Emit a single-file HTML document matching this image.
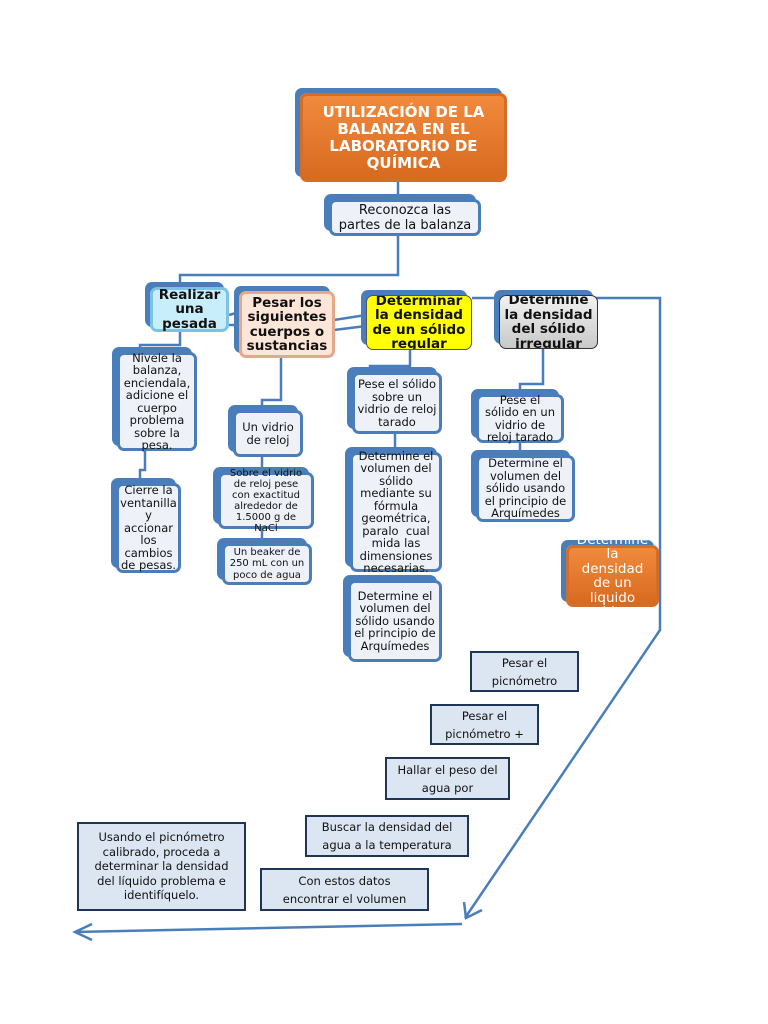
<!DOCTYPE html>
<html><head><meta charset="utf-8">
<style>
body{margin:0;background:#fff;}
#c{position:relative;width:768px;height:1024px;overflow:hidden;font-family:"DejaVu Sans","Liberation Sans",sans-serif;color:#111;}
.n{position:absolute;box-sizing:border-box;border:3px solid #4a7ebb;border-radius:7px;background:#eef2f8;box-shadow:-5px -5px 0 #4a7ebb;display:flex;align-items:center;justify-content:center;text-align:center;font-size:11.5px;line-height:12.5px;}
.r{position:absolute;box-sizing:border-box;border:2.5px solid #1f3555;background:#dce6f2;display:flex;align-items:center;justify-content:center;text-align:center;font-size:11.5px;line-height:18px;}
svg{position:absolute;left:0;top:0;}
</style></head><body><div id="c">
<svg width="768" height="1024">
<g stroke="#4a7ebb" stroke-width="2.5" fill="none">
<path d="M398 182V199M398 235V275H180V287"/>
<path d="M180 331V345H140V354"/>
<path d="M145 450V470H140V483"/>
<path d="M281 357V400H262V410"/>
<path d="M262 456V472"/><path d="M262 528V543"/>
<path d="M410 349V366H370V372"/>
<path d="M395 433V452"/>
<path d="M543 348V384H520V394"/>
<path d="M520 442V455"/>
<path d="M334 320L366 315M334 330L366 326"/>
<path d="M229 315L236 313M229 325L236 325"/>
<path d="M472 298H660V630L465 918"/>
<path d="M462 924L75 932"/>
<path d="M464 902L466 918L482 910"/>
<path d="M92 924L75 932L92 940"/>
</g></svg>
<div class="n" style="left:300px;top:93px;width:207px;height:89px;background:linear-gradient(#f18a3c,#d86a20);border-color:#d26d2a;color:#fff;font-weight:bold;font-size:15px;line-height:17px;">UTILIZACIÓN DE LA<br>BALANZA EN EL<br>LABORATORIO DE<br>QUÍMICA</div>
<div class="n" style="left:329px;top:199px;width:152px;height:37px;font-size:13px;line-height:15px;">Reconozca las<br>partes de la balanza</div>
<div class="n" style="left:150px;top:287px;width:79px;height:45px;background:#c9eefb;border-color:#7cc2e4;font-weight:bold;font-size:13.5px;line-height:14.5px;">Realizar<br>una<br>pesada</div>
<div class="n" style="left:239px;top:291px;width:96px;height:67px;background:#fde6d8;border-color:#e4a88a;font-weight:bold;font-size:13.5px;line-height:14.5px;">Pesar los<br>siguientes<br>cuerpos o<br>sustancias</div>
<div class="n" style="left:366px;top:295px;width:106px;height:55px;background:#ffff00;border-color:#555;border-width:1.5px;font-weight:bold;font-size:13.5px;line-height:14.5px;overflow:hidden;">Determinar<br>la densidad<br>de un sólido<br>regular</div>
<div class="n" style="left:499px;top:295px;width:99px;height:54px;background:linear-gradient(#f2f2f2,#c8c8c8);border-color:#333;border-width:1.5px;font-weight:bold;font-size:13.5px;line-height:14.5px;overflow:hidden;">Determine<br>la densidad<br>del sólido<br>irregular</div>
<div class="n" style="left:117px;top:352px;width:80px;height:99px;">Nivele la<br>balanza,<br>enciendala,<br>adicione el<br>cuerpo<br>problema<br>sobre la<br>pesa.</div>
<div class="n" style="left:116px;top:483px;width:65px;height:90px;line-height:12.5px;">Cierre la<br>ventanilla<br>y accionar<br>los<br>cambios<br>de pesas.</div>
<div class="n" style="left:233px;top:410px;width:70px;height:47px;">Un vidrio<br>de reloj</div>
<div class="n" style="left:218px;top:472px;width:96px;height:57px;font-size:10px;line-height:11px;">Sobre el vidrio<br>de reloj pese<br>con exactitud<br>alrededor de<br>1.5000 g de<br>NaCl</div>
<div class="n" style="left:222px;top:543px;width:90px;height:42px;font-size:10px;line-height:11.5px;">Un beaker de<br>250 mL con un<br>poco de agua</div>
<div class="n" style="left:352px;top:372px;width:90px;height:62px;">Pese el sólido<br>sobre un<br>vidrio de reloj<br>tarado</div>
<div class="n" style="left:350px;top:452px;width:92px;height:120px;">Determine el<br>volumen del<br>sólido<br>mediante su<br>fórmula<br>geométrica,<br>paralo &nbsp;cual<br>mida las<br>dimensiones<br>necesarias.</div>
<div class="n" style="left:348px;top:580px;width:94px;height:82px;">Determine el<br>volumen del<br>sólido usando<br>el principio de<br>Arquímedes</div>
<div class="n" style="left:476px;top:394px;width:88px;height:49px;">Pese el<br>sólido en un<br>vidrio de<br>reloj tarado</div>
<div class="n" style="left:476px;top:455px;width:99px;height:67px;">Determine el<br>volumen del<br>sólido usando<br>el principio de<br>Arquímedes</div>
<div class="n" style="left:566px;top:545px;width:93px;height:62px;background:linear-gradient(#f18a3c,#d86a20);border-color:#d26d2a;color:#fff;font-size:13.5px;line-height:14.5px;overflow:visible;">Determine<br>la<br>densidad<br>de un<br>liquido<br>problema</div>
<div class="r" style="left:470px;top:651px;width:109px;height:41px;">Pesar el<br>picnómetro</div>
<div class="r" style="left:430px;top:704px;width:109px;height:41px;">Pesar el<br>picnómetro +</div>
<div class="r" style="left:385px;top:757px;width:125px;height:43px;">Hallar el peso del<br>agua por</div>
<div class="r" style="left:305px;top:815px;width:164px;height:42px;">Buscar la densidad del<br>agua a la temperatura</div>
<div class="r" style="left:260px;top:868px;width:169px;height:43px;">Con estos datos<br>encontrar el volumen</div>
<div class="r" style="left:77px;top:822px;width:169px;height:89px;line-height:14.5px;">Usando el picnómetro<br>calibrado, proceda a<br>determinar la densidad<br>del líquido problema e<br>identifíquelo.</div>
</div></body></html>
